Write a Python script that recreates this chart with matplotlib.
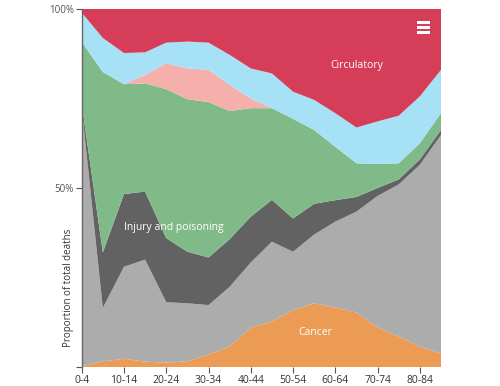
import numpy as np
import matplotlib
matplotlib.use("Agg")
import matplotlib.pyplot as plt
from matplotlib.patches import Rectangle

plt.rcParams['font.family'] = ['Open Sans', 'DejaVu Sans']

ages = ['0-4', '5-9', '10-14', '15-19', '20-24', '25-29', '30-34', '35-39', '40-44',
        '45-49', '50-54', '55-59', '60-64', '65-69', '70-74', '75-79', '80-84', '85-89']

cancer = [0.2, 1.6, 2.3, 1.5, 1.2, 1.6, 3.5, 5.7, 11.0, 12.7, 15.9, 17.8, 16.6, 15.2, 11.0, 8.5, 5.7, 3.8]
other = [72.3, 14.9, 25.7, 28.5, 16.9, 16.2, 13.8, 16.7, 18.2, 22.3, 16.3, 19.2, 24.0, 28.2, 36.8, 42.5, 50.8, 61.0]
dark_other = [1.0, 15.5, 20.3, 19.0, 17.9, 14.4, 13.3, 13.3, 12.8, 11.7, 9.3, 8.6, 6.0, 4.1, 2.2, 1.4, 1.5, 1.4]
injury = [17.3, 50.4, 30.7, 30.2, 41.6, 42.6, 43.4, 35.8, 30.3, 25.6, 27.8, 20.6, 14.9, 9.4, 6.7, 4.5, 4.5, 4.7]
pink = [0, 0, 0, 2.4, 7.2, 8.6, 9.0, 7.3, 2.7, 0, 0, 0, 0, 0, 0, 0, 0, 0]
blue = [8.2, 9.5, 8.7, 6.3, 5.8, 7.5, 7.6, 8.4, 8.4, 9.7, 7.6, 8.4, 9.4, 10.0, 11.9, 13.3, 13.1, 12.1]
circulatory = [1.0, 8.1, 12.3, 12.1, 9.4, 9.1, 9.4, 12.8, 16.6, 18.0, 23.1, 25.4, 29.1, 33.1, 31.4, 29.8, 24.4, 17.0]

colors = ['#ec9b54', '#acacac', '#626262', '#80ba88', '#f5b0ab', '#a7e1f6', '#d63d58']

fig = plt.figure(figsize=(5, 3.86), dpi=100)
ax = fig.add_axes([0.1634, 0.0492, 0.7186, 0.9275])

x = np.arange(len(ages))
ax.stackplot(x, cancer, other, dark_other, injury, pink, blue, circulatory,
             colors=colors, linewidth=0)

ax.set_xlim(0, len(ages) - 1)
ax.set_ylim(0, 100)

ax.set_xticks(x[::2])
ax.set_xticklabels(ages[::2], fontsize=7.5, color='#333333')
ax.set_yticks([0, 50, 100])
ax.set_yticklabels(['', '50%', '100%'], fontsize=7, color='#555555')
ax.tick_params(axis='both', direction='out', length=4, width=0.8, color='#555555', pad=1.5)

for s in ['top', 'right', 'bottom']:
    ax.spines[s].set_visible(False)
ax.spines['left'].set_color('#666666')
ax.spines['left'].set_linewidth(1.0)

ax.set_ylabel('Proportion of total deaths', fontsize=7, color='#333333')
ax.yaxis.set_label_coords(-0.022, 0.22)

ax.text(0.257, 0.391, 'Injury and poisoning', transform=ax.transAxes, color='white',
        fontsize=7.5, ha='center', va='center')
ax.text(0.765, 0.843, 'Circulatory', transform=ax.transAxes, color='white',
        fontsize=7.5, ha='center', va='center')
ax.text(0.649, 0.096, 'Cancer', transform=ax.transAxes, color='white',
        fontsize=7.5, ha='center', va='center')

# menu icon
for dy in [0.0, 0.014, 0.028]:
    ax.add_patch(Rectangle((0.932, 0.93 + dy), 0.036, 0.008, transform=ax.transAxes,
                           facecolor='white', edgecolor='none'))

fig.savefig('out.png', dpi=100)
